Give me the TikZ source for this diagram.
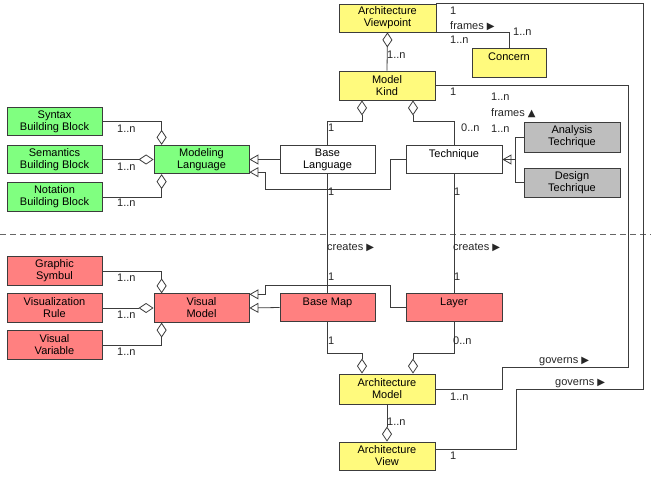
\documentclass[tikz,border=0pt]{standalone}
\usepackage{fontspec}
\setmainfont{Liberation Sans}
\newfontfamily\symfont{DejaVu Sans}
\usetikzlibrary{arrows.meta,calc}
\definecolor{cyellow}{RGB}{255,250,125}
\definecolor{cgreen}{RGB}{128,255,128}
\definecolor{cred}{RGB}{255,128,128}
\definecolor{cgray}{RGB}{190,190,190}
\definecolor{lcol}{RGB}{60,60,60}
\newcommand{\tri}{{\symfont\fontsize{10bp}{10bp}\selectfont ▶}}
\newcommand{\trup}{{\symfont\fontsize{10bp}{10bp}\selectfont ▲}}
\begin{document}
\begin{tikzpicture}[x=1bp,y=-1bp,
  font=\fontsize{11bp}{12bp}\selectfont,
  box/.style={draw=lcol, line width=0.8bp, minimum width=95bp, minimum height=28.5bp, inner sep=0pt, align=center},
  yel/.style={box, fill=cyellow},
  grn/.style={box, fill=cgreen},
  red/.style={box, fill=cred},
  gry/.style={box, fill=cgray},
  wht/.style={box, fill=white},
  conn/.style={draw=lcol, line width=0.8bp},
  agg/.style={conn, -{Diamond[open, length=15bp, width=10bp]}},
  gen/.style={conn, -{Triangle[open, length=9bp, width=10bp]}},
  lab/.style={anchor=west, inner sep=0pt, text=black!85}
]
\useasboundingbox (0,0) rectangle (651,478);
\fill[white] (0,0) rectangle (651,478);

% nodes
\node[yel, minimum width=97bp, minimum height=28bp] (vp) at (387.5,18) {Architecture\\Viewpoint};
\node[yel, minimum width=74bp, minimum height=29bp] (concern) at (509,62.5) {Concern\\\mbox{}};
\node[yel, minimum width=96bp, minimum height=29bp] (mk) at (387,85.5) {Model\\Kind};
\node[wht] (bl) at (327.5,159.5) {Base\\Language};
\node[wht, minimum width=96bp] (tech) at (454,159.5) {Technique\\\mbox{}};
\node[gry, minimum width=96bp, minimum height=30bp] (at) at (572,137) {Analysis\\Techrique};
\node[gry, minimum width=96bp, minimum height=29bp] (dt) at (572,182.5) {Design\\Techrique};
\node[grn] (ml) at (201.5,159.5) {Modeling\\Language};
\node[grn] (syn) at (54.5,121.5) {Syntax\\Building Block};
\node[grn] (sem) at (54.5,159.5) {Semantics\\Building Block};
\node[grn] (not) at (54.5,197) {Notation\\Building Block};
\node[red] (gs) at (54.5,271) {Graphic\\Symbul};
\node[red] (vr) at (54.5,308) {Visualization\\Rule};
\node[red] (vv) at (54.5,345) {Visual\\Variable};
\node[red] (vm) at (201.5,308) {Visual\\Model};
\node[red] (bm) at (327.5,307.5) {Base Map\\\mbox{}};
\node[red, minimum width=96bp] (layer) at (454,307.5) {Layer\\\mbox{}};
\node[yel, minimum width=96bp, minimum height=30bp] (am) at (387,389) {Architecture\\Model};
\node[yel, minimum width=96bp, minimum height=28bp] (av) at (387,456) {Architecture\\View};

% dashed separator
\draw[dashed, dash pattern=on 6bp off 4bp, draw=black!60, line width=0.8bp] (0,234) -- (651,234);

% free-end coordinates for the long routes
\coordinate (g1a) at (628,367);
\coordinate (g1b) at (502,367);
\coordinate (g2a) at (643,389);
\coordinate (g2b) at (516,389);

% top part
\draw[agg] (mk.north) -- (vp.south);
\draw[conn] (vp.south east) -| (concern.north);
\draw[agg] (bl.north) -- ++(0,-23) -| ($(mk.south)+(-25,0)$);
\draw[agg] (tech.north) -- ++(0,-23) -| ($(mk.south)+(26,0)$);
\draw[conn] ($(concern.south)+(-22,0)$) -- ($(concern.south)+(-22,0)$ |- tech.north);
\draw[gen] (at.west) -- ++(-8,0) |- (tech.east);
\draw[conn] (dt.west) -- ++(-8,0) |- (tech.east);

% modeling language
\draw[agg] (syn.east) -| ($(ml.north west)+(8,0)$);
\draw[agg] (sem.east) -- (ml.west);
\draw[agg] (not.east) -| ($(ml.south west)+(8,0)$);
\draw[gen] (bl.west) -- (ml.east);
\draw[gen] (tech.west) -- ++(-15,0) -- ++(0,30) -| ($(ml.south east)+(16,-2)$) -- ($(ml.south east)+(0,-2)$);

% creates
\draw[conn] (bl.south) -- (bm.north);
\draw[conn] (tech.south) -- (layer.north);

% visual model
\draw[agg] (gs.east) -| ($(vm.north west)+(8,0)$);
\draw[agg] (vr.east) -- (vm.west);
\draw[agg] (vv.east) -| ($(vm.south west)+(8,0)$);
\draw[gen] (bm.west) -- (vm.east);
\draw[gen] (layer.west) -- ++(-15,0) -- ++(0,-22.5) -| ($(vm.north east)+(16,1)$) -- ($(vm.north east)+(0,1)$);

% architecture model
\draw[agg] (bm.south) -- ++(0,31) -| ($(am.north)+(-25,0)$);
\draw[agg] (layer.south) -- ++(0,31) -| ($(am.north)+(26,0)$);
\draw[agg] (am.south) -- (av.north);

% governs
\draw[conn] (mk.east) -| (g1a) -- (g1b) |- (am.east);
\draw[conn] (vp.north east) -| (g2a) -- (g2b) |- ($(av.east)+(0,-7)$);

% labels
\node[lab] (l1) at (450,10.5) {1};
\node[lab] (l2) at (450,26) {frames \tri};
\node[lab] (l3) at (450,40) {1..n};
\node[lab] (l4) at (513,32) {1..n};
\node[lab] (l5) at (387,55) {1..n};
\node[lab] (l6) at (450,92) {1};
\node[lab] (l7) at (328,128) {1};
\node[lab] (l8) at (461,128) {0..n};
\node[lab] (l9) at (491,97) {1..n};
\node[lab] (l10) at (491,113) {frames \trup};
\node[lab] (l11) at (491,129) {1..n};
\node[lab] (l12) at (117,129) {1..n};
\node[lab] (l13) at (117,167) {1..n};
\node[lab] (l14) at (117,203) {1..n};
\node[lab] (l15) at (117,277.5) {1..n};
\node[lab] (l16) at (117,315) {1..n};
\node[lab] (l17) at (117,352) {1..n};
\node[lab] (l18) at (328,192) {1};
\node[lab] (l19) at (454,192) {1};
\node[lab] (l20) at (327,248) {creates \tri};
\node[lab] (l21) at (453,248) {creates \tri};
\node[lab] (l22) at (328,277) {1};
\node[lab] (l23) at (454,277) {1};
\node[lab] (l24) at (328,341) {1};
\node[lab] (l25) at (453,341) {0..n};
\node[lab] (l26) at (539,361) {governs \tri};
\node[lab] (l27) at (555,383) {governs \tri};
\node[lab] (l28) at (450,397) {1..n};
\node[lab] (l29) at (387,422) {1..n};
\node[lab] (l30) at (450,456) {1};
\end{tikzpicture}
\end{document}
